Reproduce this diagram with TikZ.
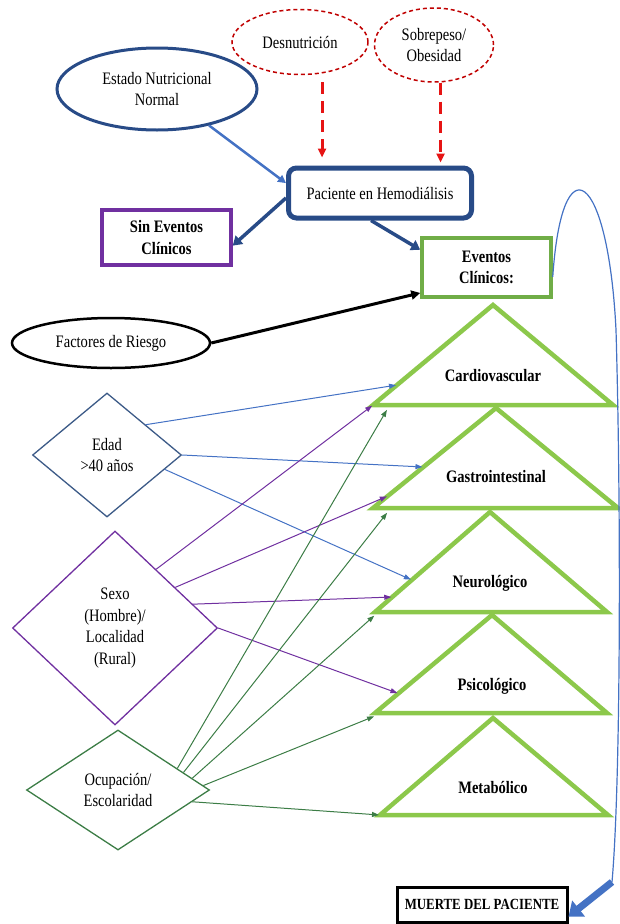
\documentclass[tikz,border=0pt]{standalone}
\usepackage{fontspec}
\setmainfont{Liberation Serif}[FakeStretch=0.83]
\usetikzlibrary{shapes.geometric,arrows.meta,calc}
\definecolor{azulosc}{RGB}{40,75,135}
\definecolor{azulclaro}{RGB}{68,114,196}
\definecolor{rojonube}{RGB}{192,0,0}
\definecolor{rojoflecha}{RGB}{230,20,20}
\definecolor{morado}{RGB}{112,48,160}
\definecolor{verdebox}{RGB}{112,173,71}
\definecolor{verdetri}{RGB}{140,200,75}
\definecolor{azulgris}{RGB}{60,90,135}
\definecolor{verdeosc}{RGB}{60,125,70}
\newcommand{\diagfont}{\fontsize{17.5pt}{21.5pt}\selectfont}
\begin{document}
\begin{tikzpicture}[x=1pt,y=-1pt,
    every node/.style={font=\diagfont,align=center,inner sep=0pt},
    dashell/.style={ellipse,draw=rojonube,line width=1.5pt,dash pattern=on 4pt off 3pt},
    box/.style={rectangle,line width=3.5pt},
    rombo/.style={diamond,line width=1.3pt},
    lnk/.style={line width=1pt,shorten >=1pt,-{Triangle[length=7pt,width=5pt]}},
    redarr/.style={color=rojoflecha,line width=3pt,dash pattern=on 12pt off 7pt,-{Triangle[length=9pt,width=8pt]}},
    fatarr/.style={color=azulosc,line width=3.5pt,-{Triangle[length=9pt,width=11pt]}}]
  \useasboundingbox (0,0) rectangle (619,924);
  % estado nutricional
  \node[dashell,minimum width=136,minimum height=65] (desn) at (300,42) {Desnutrición};
  \node[dashell,minimum width=119,minimum height=74] (sobre) at (434,45) {Sobrepeso/\\Obesidad};
  \node[ellipse,draw=azulosc,line width=3pt,minimum width=200,minimum height=82] (estado) at (157,89) {Estado Nutricional\\Normal};
  \node[draw=azulosc,line width=5pt,rounded corners=8pt,minimum width=183,minimum height=50] (paciente) at (380,193) {Paciente en Hemodiálisis};
  \node[box,draw=morado,minimum width=129,minimum height=55,font=\diagfont\bfseries] (sin) at (166.5,237.5) {Sin Eventos\\Clínicos};
  \node[box,draw=verdebox,minimum width=129,minimum height=59,font=\diagfont\bfseries] (eventos) at (486.5,267.5) {Eventos\\Clínicos:};
  \node[ellipse,draw=black,line width=2.5pt,minimum width=198,minimum height=50] (factores) at (111,343) {Factores de Riesgo};
  \draw[redarr,shorten >=8pt] ([yshift=-9pt]desn.-55) -- (desn.-55 |- paciente.north);
  \draw[redarr,shorten >=3pt] (sobre.-80) -- (sobre.-80 |- paciente.north);
  \draw[color=azulclaro,line width=2.5pt,-{Triangle[length=8pt,width=8pt]}] (estado.-35) -- (paciente.174);
  \draw[fatarr] (paciente.-177) -- (sin.-7);
  \draw[fatarr] (paciente.-108) -- (eventos.165);
  \draw[line width=3pt,-{Triangle[length=9pt,width=9pt]}] (factores.east) -- (eventos.-159);
  % factores
  \node[rombo,draw=azulgris,minimum width=149,minimum height=124] (edad) at (107,455) {Edad\\>40 años};
  \node[rombo,draw=morado,minimum width=205,minimum height=194] (sexo) at (115,628) {Sexo\\(Hombre)/\\Localidad\\(Rural)};
  \node[rombo,draw=verdeosc,minimum width=183,minimum height=120] (ocup) at (118,790) {Ocupación/\\Escolaridad};
  % eventos
  \foreach \n/\ax/\ay/\by/\lx/\rx/\ty/\txt in {cv/493/305/405/373/613/376/Cardiovascular,
      gi/496/408/508/373/618/477/Gastrointestinal, ne/490/512/612/375/607/583/Neurológico,
      ps/492/615/713/375/607/686/Psicológico, me/493/718/815/380/608/787/Metabólico}{%
    \draw[verdetri,line width=4.5pt] (\lx,\by) coordinate (\n-l) -- (\ax,\ay) coordinate (\n-t)
      -- (\rx,\by) coordinate (\n-r) -- cycle;
    \node[font=\diagfont\bfseries] (\n) at (\ax,\ty) {\txt};
  }
  \draw[lnk,color=azulclaro] (edad.38) -- ($(cv-l)!0.2!(cv-t)$);
  \draw[lnk,color=azulclaro] (edad.east) -- ($(gi-l)!0.41!(gi-t)$);
  \draw[lnk,color=azulclaro] (edad.-14) -- ($(ne-l)!0.32!(ne-t)$);
  \draw[lnk,color=morado] (sexo.55) -- (cv-l);
  \draw[lnk,color=morado] (sexo.34) -- ($(gi-l)!0.12!(gi-t)$);
  \draw[lnk,color=morado] (sexo.17) -- ($(ne-l)!0.15!(ne-t)$);
  \draw[lnk,color=morado] (sexo.east) -- ($(ps-l)!0.2!(ps-t)$);
  \draw[lnk,color=verdeosc] (ocup.20) -- ($(cv-l)!0.06!(cv-r)+(0,4)$);
  \draw[lnk,color=verdeosc] (ocup.15) -- ($(gi-l)!0.06!(gi-r)+(0,4)$);
  \draw[lnk,color=verdeosc] (ocup.9) -- ($(ne-l)+(0,3)$);
  \draw[lnk,color=verdeosc] (ocup.3) -- ($(ps-l)+(0,3)$);
  \draw[lnk,color=verdeosc] (ocup.-9) -- (me-l);
  % desenlace
  \node[draw=black,line width=3pt,minimum width=170,minimum height=35,
    font=\fontsize{15.5pt}{18pt}\selectfont\bfseries] (muerte) at (482,904.5) {MUERTE DEL PACIENTE};
  \draw[azulclaro,line width=1.2pt] (eventos.-8) .. controls (562,140) and (608,170) .. (616,330)
    .. controls (621,500) and (621,780) .. (612,882) coordinate (codo);
  \draw[azulclaro,line width=7pt,-{Triangle[length=13pt,width=20pt]}] (codo) -- (muerte.-8);
\end{tikzpicture}
\end{document}
